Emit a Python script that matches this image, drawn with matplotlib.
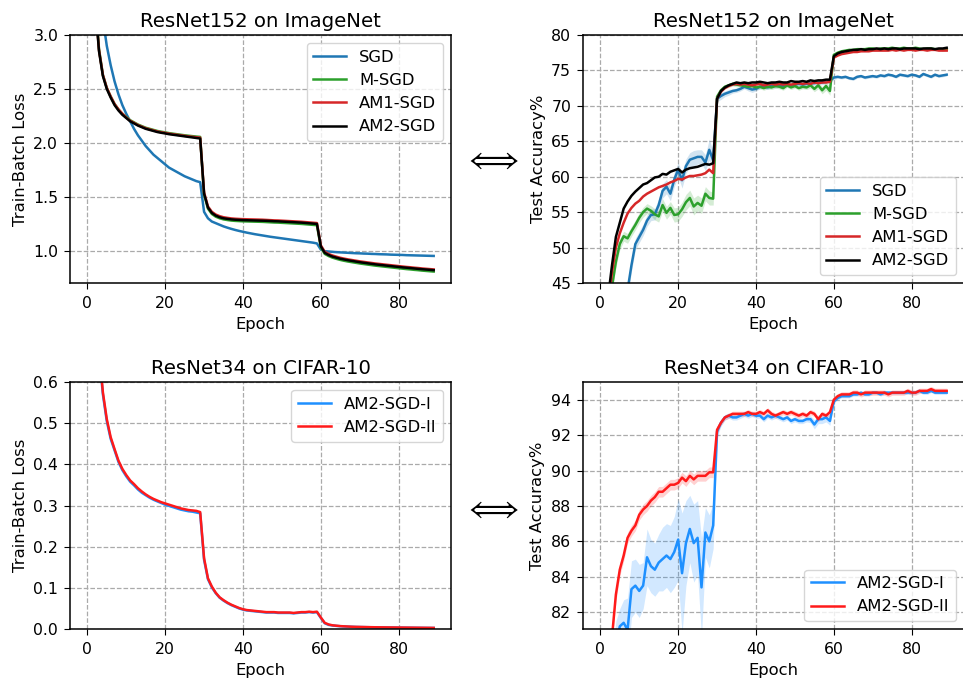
import numpy as np
import matplotlib
matplotlib.use("Agg")
import matplotlib.pyplot as plt

epochs = np.arange(90)

# --- ResNet152 / ImageNet : train-batch loss ---
loss_sgd = [6.8, 5.5, 4.4, 3.6, 3.15, 2.9, 2.72, 2.57, 2.45, 2.35,
            2.27, 2.2, 2.13, 2.07, 2.02, 1.97, 1.93, 1.89, 1.86, 1.83,
            1.80, 1.77, 1.75, 1.73, 1.71, 1.69, 1.675, 1.66, 1.645, 1.635,
            1.36, 1.30, 1.27, 1.255, 1.24, 1.225, 1.213, 1.202, 1.192, 1.183,
            1.175, 1.167, 1.16, 1.153, 1.147, 1.141, 1.135, 1.129, 1.124, 1.119,
            1.114, 1.109, 1.104, 1.099, 1.094, 1.089, 1.084, 1.079, 1.074, 1.067,
            1.01, 0.995, 0.992, 0.989, 0.986, 0.984, 0.982, 0.980, 0.978, 0.976,
            0.975, 0.973, 0.972, 0.970, 0.969, 0.967, 0.966, 0.965, 0.963, 0.962,
            0.961, 0.960, 0.958, 0.957, 0.956, 0.955, 0.954, 0.953, 0.952, 0.951]
loss_msgd = [7.0, 4.9, 3.35, 2.87, 2.63, 2.51, 2.43, 2.36, 2.31, 2.27,
             2.24, 2.21, 2.19, 2.17, 2.155, 2.14, 2.13, 2.12, 2.11, 2.103,
             2.097, 2.09, 2.085, 2.08, 2.075, 2.07, 2.066, 2.062, 2.058, 2.055,
             1.52, 1.39, 1.34, 1.315, 1.3, 1.29, 1.284, 1.279, 1.276, 1.274,
             1.272, 1.271, 1.27, 1.269, 1.268, 1.267, 1.265, 1.263, 1.261, 1.26,
             1.258, 1.256, 1.254, 1.252, 1.25, 1.248, 1.245, 1.242, 1.239, 1.236,
             1.03, 0.97, 0.95, 0.935, 0.924, 0.914, 0.906, 0.899, 0.893, 0.887,
             0.881, 0.876, 0.871, 0.866, 0.861, 0.857, 0.853, 0.849, 0.845, 0.841,
             0.837, 0.833, 0.829, 0.826, 0.822, 0.819, 0.815, 0.812, 0.809, 0.806]
loss_am1 = [7.0, 4.8, 3.32, 2.86, 2.63, 2.51, 2.43, 2.36, 2.31, 2.27,
            2.235, 2.205, 2.185, 2.165, 2.15, 2.135, 2.125, 2.115, 2.105, 2.098,
            2.092, 2.085, 2.08, 2.075, 2.07, 2.065, 2.06, 2.056, 2.052, 2.048,
            1.54, 1.41, 1.36, 1.335, 1.32, 1.31, 1.304, 1.299, 1.296, 1.294,
            1.292, 1.291, 1.29, 1.289, 1.288, 1.287, 1.285, 1.283, 1.281, 1.28,
            1.278, 1.276, 1.274, 1.272, 1.27, 1.268, 1.265, 1.262, 1.259, 1.256,
            1.05, 0.99, 0.97, 0.955, 0.944, 0.934, 0.926, 0.919, 0.913, 0.907,
            0.901, 0.896, 0.891, 0.886, 0.881, 0.877, 0.873, 0.869, 0.865, 0.861,
            0.857, 0.853, 0.849, 0.846, 0.842, 0.839, 0.835, 0.832, 0.829, 0.826]
loss_am2 = [7.0, 4.8, 3.3, 2.85, 2.62, 2.5, 2.42, 2.35, 2.3, 2.26,
            2.23, 2.2, 2.18, 2.16, 2.145, 2.13, 2.12, 2.11, 2.1, 2.093,
            2.087, 2.08, 2.075, 2.07, 2.065, 2.06, 2.055, 2.05, 2.045, 2.04,
            1.53, 1.40, 1.35, 1.325, 1.31, 1.30, 1.295, 1.29, 1.287, 1.285,
            1.283, 1.282, 1.281, 1.28, 1.279, 1.278, 1.277, 1.275, 1.273, 1.272,
            1.27, 1.268, 1.266, 1.264, 1.262, 1.26, 1.257, 1.254, 1.251, 1.248,
            1.04, 0.98, 0.96, 0.945, 0.935, 0.925, 0.918, 0.911, 0.905, 0.899,
            0.893, 0.888, 0.883, 0.878, 0.873, 0.869, 0.865, 0.861, 0.857, 0.853,
            0.849, 0.845, 0.842, 0.838, 0.835, 0.831, 0.828, 0.825, 0.822, 0.819]

# --- ResNet152 / ImageNet : test accuracy ---
acc_sgd = [5, 15, 25, 32, 37, 40, 42, 44, 47.5, 50.5,
           51.5, 52.5, 53.8, 54.6, 54.7, 56.0, 58.0, 58.6, 57.6, 59.6,
           61.0, 59.5, 61.5, 62.4, 62.6, 62.8, 62.8, 62.0, 63.8, 62.3,
           71.0, 71.4, 71.7, 71.9, 72.1, 72.2, 72.4, 72.7, 72.5, 72.3,
           72.4, 72.7, 72.8, 72.6, 72.9, 72.8, 72.9, 72.8, 73.0, 72.9,
           73.0, 73.1, 73.0, 73.1, 73.2, 73.2, 73.3, 73.3, 73.4, 73.5,
           74.0, 74.1, 74.0, 74.1, 73.9, 73.8, 74.1, 74.2, 74.0, 74.1,
           74.2, 74.1, 74.3, 74.2, 74.4, 74.3, 74.1, 74.4, 74.3, 74.2,
           74.4, 74.3, 74.1, 74.5, 74.3, 74.1, 74.4, 74.2, 74.3, 74.4]
acc_msgd = [12, 25, 37, 44.5, 48.0, 50.5, 51.6, 51.3, 52.3, 53.2,
            54.2, 55.0, 55.5, 55.2, 54.7, 54.4, 56.0, 54.9, 55.6, 54.6,
            54.7, 55.4, 56.4, 57.0, 55.8, 56.3, 55.9, 57.6, 57.0, 56.9,
            71.3, 72.2, 72.7, 72.9, 73.1, 73.0, 72.9, 72.8, 72.7, 72.8,
            72.6, 72.7, 72.5, 72.7, 72.6, 72.8, 72.7, 72.5, 72.9, 72.6,
            72.8, 72.5, 72.7, 72.6, 72.9, 72.4, 72.9, 72.2, 72.8, 72.1,
            77.2, 77.5, 77.7, 77.8, 77.9, 77.9, 78.0, 78.0, 78.0, 78.1,
            78.1, 78.0, 78.1, 78.1, 78.1, 78.2, 78.1, 78.1, 78.2, 78.1,
            78.1, 78.2, 78.1, 78.0, 78.1, 78.1, 78.0, 78.0, 77.9, 78.0]
acc_am1 = [17, 31, 42, 46.5, 50.0, 52.0, 53.5, 54.8, 55.6, 56.2,
           56.6, 57.2, 57.6, 57.9, 58.2, 58.5, 58.7, 58.9, 59.2, 59.4,
           59.7, 59.6, 59.9, 60.1, 60.1, 60.2, 60.3, 60.5, 61.0, 60.5,
           71.0, 72.0, 72.5, 72.8, 73.0, 73.1, 73.0, 73.1, 73.0, 72.9,
           73.0, 73.1, 72.9, 73.0, 73.1, 73.0, 73.1, 73.0, 73.1, 73.0,
           73.1, 73.2, 73.1, 73.2, 73.1, 73.3, 73.2, 73.3, 73.3, 73.4,
           76.8, 77.1, 77.3, 77.4, 77.5, 77.6, 77.6, 77.7, 77.7, 77.7,
           77.8, 77.8, 77.8, 77.8, 77.8, 77.9, 77.8, 77.9, 77.8, 77.9,
           77.9, 77.8, 77.9, 77.9, 77.8, 77.9, 77.9, 77.8, 77.8, 77.8]
acc_am2 = [18, 33, 43, 47.5, 51.5, 53.5, 55.5, 56.5, 57.3, 57.9,
           58.4, 58.9, 59.1, 59.5, 59.9, 60.0, 60.4, 60.3, 60.7, 60.9,
           61.1, 60.6, 61.0, 61.2, 61.3, 61.4, 61.6, 61.8, 61.7, 61.9,
           71.0, 72.1, 72.6, 72.9, 73.1, 73.3, 73.2, 73.3, 73.2, 73.3,
           73.3, 73.4, 73.3, 73.2, 73.3, 73.3, 73.4, 73.3, 73.3, 73.5,
           73.4, 73.4, 73.5, 73.4, 73.6, 73.5, 73.6, 73.6, 73.7, 73.7,
           77.0, 77.4, 77.6, 77.7, 77.8, 77.9, 77.9, 78.0, 77.9, 78.0,
           78.0, 78.1, 78.0, 78.1, 78.0, 78.1, 78.1, 78.0, 78.1, 78.1,
           78.1, 78.1, 78.0, 78.1, 78.1, 78.1, 78.0, 78.1, 78.1, 78.2]
std_sgd = [1.0, 1.0, 1.0, 1.0, 1.0, 1.0, 1.0, 1.0, 0.9, 0.8,
           0.8, 0.8, 0.8, 0.8, 0.8, 0.9, 1.0, 1.0, 1.0, 1.0,
           1.0, 1.1, 1.0, 1.0, 1.1, 1.0, 1.0, 1.1, 1.5, 1.2,
           0.4, 0.5, 0.4, 0.4, 0.3, 0.3, 0.3, 0.3, 0.4, 0.4,
           0.3, 0.3, 0.3, 0.3, 0.3, 0.3, 0.3, 0.3, 0.3, 0.3,
           0.3, 0.3, 0.3, 0.3, 0.3, 0.3, 0.3, 0.3, 0.3, 0.3,
           0.3, 0.2, 0.2, 0.2, 0.2, 0.2, 0.2, 0.2, 0.2, 0.2,
           0.2, 0.2, 0.2, 0.2, 0.2, 0.2, 0.2, 0.2, 0.2, 0.2,
           0.2, 0.2, 0.2, 0.2, 0.2, 0.2, 0.2, 0.2, 0.2, 0.2]
std_msgd = [0.8, 0.8, 0.8, 0.8, 0.8, 0.8, 0.7, 0.7, 0.7, 0.7,
            0.7, 0.7, 0.7, 0.7, 0.8, 0.8, 0.9, 0.9, 0.9, 1.0,
            1.0, 1.0, 1.1, 1.1, 1.2, 1.1, 1.1, 1.0, 1.0, 0.9,
            0.4, 0.3, 0.3, 0.3, 0.3, 0.3, 0.3, 0.3, 0.3, 0.3,
            0.3, 0.3, 0.3, 0.3, 0.3, 0.3, 0.3, 0.3, 0.3, 0.3,
            0.3, 0.3, 0.3, 0.3, 0.4, 0.4, 0.5, 0.5, 0.6, 0.6,
            0.2, 0.15, 0.15, 0.15, 0.15, 0.15, 0.15, 0.15, 0.15, 0.15,
            0.15, 0.15, 0.15, 0.15, 0.15, 0.15, 0.15, 0.15, 0.15, 0.15,
            0.15, 0.15, 0.15, 0.15, 0.15, 0.15, 0.15, 0.15, 0.15, 0.15]

# --- ResNet34 / CIFAR-10 : train-batch loss ---
cl_am2_i = [1.6, 1.1, 0.85, 0.67, 0.57, 0.505, 0.462, 0.434, 0.406, 0.386,
            0.371, 0.358, 0.349, 0.339, 0.331, 0.325, 0.319, 0.314, 0.31, 0.306,
            0.302, 0.299, 0.296, 0.293, 0.29, 0.288, 0.286, 0.285, 0.283, 0.281,
            0.168, 0.121, 0.101, 0.087, 0.076, 0.069, 0.063, 0.058, 0.054, 0.05,
            0.047, 0.045, 0.044, 0.043, 0.042, 0.041, 0.040, 0.040, 0.040, 0.039,
            0.039, 0.039, 0.039, 0.038, 0.039, 0.040, 0.040, 0.041, 0.040, 0.041,
            0.027, 0.014, 0.010, 0.0085, 0.0075, 0.0068, 0.0062, 0.0058, 0.0054, 0.005,
            0.0048, 0.0046, 0.0044, 0.0042, 0.004, 0.0039, 0.0038, 0.0037, 0.0036, 0.0035,
            0.0034, 0.0033, 0.0032, 0.0031, 0.003, 0.0029, 0.0028, 0.0027, 0.0026, 0.0025]
cl_am2_ii = [1.6, 1.1, 0.85, 0.68, 0.575, 0.51, 0.466, 0.437, 0.409, 0.389,
             0.374, 0.361, 0.352, 0.342, 0.334, 0.327, 0.321, 0.316, 0.312, 0.308,
             0.305, 0.302, 0.299, 0.296, 0.293, 0.291, 0.289, 0.288, 0.287, 0.284,
             0.172, 0.123, 0.103, 0.088, 0.077, 0.070, 0.064, 0.059, 0.055, 0.051,
             0.048, 0.046, 0.045, 0.044, 0.043, 0.042, 0.041, 0.041, 0.041, 0.040,
             0.040, 0.040, 0.040, 0.039, 0.040, 0.041, 0.041, 0.042, 0.041, 0.042,
             0.028, 0.015, 0.011, 0.009, 0.008, 0.007, 0.0065, 0.006, 0.0055, 0.0052,
             0.005, 0.0048, 0.0046, 0.0044, 0.0042, 0.0041, 0.004, 0.0039, 0.0038, 0.0037,
             0.0036, 0.0035, 0.0034, 0.0033, 0.0032, 0.0031, 0.003, 0.0029, 0.0028, 0.0027]

# --- ResNet34 / CIFAR-10 : test accuracy ---
ca_am2_i = [60, 70, 75, 78, 80, 81.2, 81.4, 81.0, 83.3, 83.5,
            83.2, 83.5, 85.1, 84.6, 84.4, 84.8, 85.0, 85.2, 85.0, 85.4,
            86.1, 84.2, 85.9, 86.7, 85.9, 86.2, 83.4, 86.5, 86.0, 86.9,
            92.2, 92.7, 93.0, 93.1, 93.0, 93.0, 93.1, 93.2, 93.1, 93.2,
            93.1, 93.1, 92.9, 93.1, 93.0, 93.1, 93.0, 92.9, 93.0, 92.8,
            92.9, 92.8, 92.8, 92.9, 92.9, 92.6, 92.9, 92.9, 93.0, 92.8,
            93.9, 94.1, 94.2, 94.2, 94.2, 94.3, 94.3, 94.4, 94.3, 94.3,
            94.4, 94.4, 94.3, 94.4, 94.4, 94.4, 94.4, 94.4, 94.4, 94.4,
            94.4, 94.4, 94.5, 94.4, 94.4, 94.5, 94.4, 94.4, 94.4, 94.4]
ca_am2_ii = [70, 75, 78.5, 80.6, 83.0, 84.4, 85.2, 86.2, 86.6, 86.9,
             87.5, 87.8, 88.0, 88.3, 88.5, 88.8, 88.8, 89.0, 89.2, 89.2,
             89.3, 89.6, 89.4, 89.7, 89.5, 89.7, 89.7, 89.7, 89.9, 89.9,
             92.3, 92.7, 93.0, 93.1, 93.2, 93.2, 93.2, 93.2, 93.3, 93.2,
             93.2, 93.3, 93.2, 93.4, 93.2, 93.1, 93.2, 93.3, 93.2, 93.3,
             93.2, 93.1, 93.2, 93.1, 93.3, 93.2, 92.9, 93.2, 93.1, 93.3,
             94.0, 94.2, 94.3, 94.3, 94.3, 94.4, 94.4, 94.3, 94.4, 94.4,
             94.4, 94.4, 94.4, 94.4, 94.3, 94.4, 94.4, 94.4, 94.4, 94.5,
             94.4, 94.4, 94.5, 94.5, 94.5, 94.6, 94.5, 94.5, 94.5, 94.5]
ca_std_i = [1.5, 1.5, 1.5, 1.5, 1.5, 1.0, 1.3, 1.8, 1.6, 1.5,
            1.5, 1.3, 1.6, 1.5, 1.5, 1.6, 1.8, 1.8, 1.9, 2.0,
            2.3, 3.4, 2.4, 1.9, 2.2, 2.1, 2.8, 1.4, 1.5, 1.3,
            0.3, 0.2, 0.15, 0.15, 0.15, 0.15, 0.15, 0.15, 0.15, 0.15,
            0.15, 0.15, 0.15, 0.15, 0.15, 0.15, 0.15, 0.15, 0.15, 0.15,
            0.15, 0.15, 0.15, 0.15, 0.2, 0.25, 0.25, 0.25, 0.25, 0.25,
            0.1, 0.1, 0.1, 0.1, 0.1, 0.1, 0.1, 0.1, 0.1, 0.1,
            0.1, 0.1, 0.1, 0.1, 0.1, 0.1, 0.1, 0.1, 0.1, 0.1,
            0.1, 0.1, 0.1, 0.1, 0.1, 0.1, 0.1, 0.1, 0.1, 0.1]
ca_std_ii = [0.4, 0.4, 0.4, 0.4, 0.4, 0.35, 0.3, 0.3, 0.3, 0.3,
             0.3, 0.3, 0.3, 0.3, 0.3, 0.3, 0.3, 0.3, 0.3, 0.3,
             0.3, 0.3, 0.3, 0.3, 0.3, 0.3, 0.3, 0.3, 0.3, 0.3,
             0.2, 0.15, 0.15, 0.15, 0.15, 0.15, 0.15, 0.15, 0.15, 0.15,
             0.15, 0.15, 0.15, 0.15, 0.15, 0.15, 0.15, 0.15, 0.15, 0.15,
             0.15, 0.15, 0.15, 0.15, 0.15, 0.15, 0.15, 0.15, 0.15, 0.15,
             0.15, 0.15, 0.15, 0.15, 0.15, 0.15, 0.15, 0.15, 0.15, 0.15,
             0.15, 0.15, 0.15, 0.15, 0.15, 0.15, 0.15, 0.15, 0.15, 0.15,
             0.15, 0.15, 0.15, 0.15, 0.15, 0.15, 0.15, 0.15, 0.15, 0.15]

C_SGD, C_MSGD, C_AM1, C_AM2 = '#1f77b4', '#2ca02c', '#d62728', 'black'
C_I, C_II = '#1e90ff', '#ff1a1a'

plt.rcParams['font.family'] = ['DejaVu Sans']
plt.rcParams['xtick.labelsize'] = 11.3
plt.rcParams['ytick.labelsize'] = 11.3
plt.rcParams['axes.labelsize'] = 11.8
plt.rcParams['legend.fontsize'] = 11.8
plt.rcParams['axes.titlesize'] = 14.2
plt.rcParams['axes.linewidth'] = 1.1
plt.rcParams['xtick.major.size'] = 4.5
plt.rcParams['ytick.major.size'] = 4.5
plt.rcParams['xtick.major.pad'] = 5
plt.rcParams['ytick.major.pad'] = 4

fig = plt.figure(figsize=(9.63, 6.79), dpi=100)
W, H = 963.0, 679.0


def make_ax(left, top, right, bottom):
    return fig.add_axes([left / W, 1 - bottom / H, (right - left) / W, (bottom - top) / H])


def style(ax):
    ax.grid(True, ls='--', color='#aaaaaa', lw=0.9)
    ax.set_axisbelow(True)
    ax.set_xticks([0, 20, 40, 60, 80])
    ax.set_xlabel('Epoch', labelpad=4.5)


LW = 1.8

ax1 = make_ax(70, 35, 451, 283)
ax1.plot(epochs, loss_sgd, color=C_SGD, lw=LW, label='SGD')
ax1.plot(epochs, loss_msgd, color=C_MSGD, lw=LW, label='M-SGD')
ax1.plot(epochs, loss_am1, color=C_AM1, lw=LW, label='AM1-SGD')
ax1.plot(epochs, loss_am2, color=C_AM2, lw=LW, label='AM2-SGD')
ax1.set_ylim(0.7, 3.0)
ax1.set_yticks([1.0, 1.5, 2.0, 2.5, 3.0])
ax1.set_ylabel('Train-Batch Loss')
ax1.set_title('ResNet152 on ImageNet')
style(ax1)
ax1.legend(loc='upper right')

ax2 = make_ax(583, 35, 964, 283)
sgd = np.array(acc_sgd)
msgd = np.array(acc_msgd)
ax2.fill_between(epochs, sgd - np.array(std_sgd), sgd + np.array(std_sgd), color=C_SGD, alpha=0.2, lw=0)
ax2.fill_between(epochs, msgd - np.array(std_msgd), msgd + np.array(std_msgd), color=C_MSGD, alpha=0.2, lw=0)
ax2.plot(epochs, acc_sgd, color=C_SGD, lw=LW, label='SGD')
ax2.plot(epochs, acc_msgd, color=C_MSGD, lw=LW, label='M-SGD')
ax2.plot(epochs, acc_am1, color=C_AM1, lw=LW, label='AM1-SGD')
ax2.plot(epochs, acc_am2, color=C_AM2, lw=LW, label='AM2-SGD')
ax2.set_ylim(45, 80)
ax2.set_ylabel('Test Accuracy%')
ax2.set_title('ResNet152 on ImageNet')
style(ax2)
ax2.legend(loc='lower right')

ax3 = make_ax(70, 382, 451, 629)
ax3.plot(epochs, cl_am2_i, color=C_I, lw=LW, label='AM2-SGD-I')
ax3.plot(epochs, cl_am2_ii, color=C_II, lw=LW, label='AM2-SGD-II')
ax3.set_ylim(0.0, 0.6)
ax3.set_ylabel('Train-Batch Loss')
ax3.set_title('ResNet34 on CIFAR-10')
style(ax3)
ax3.legend(loc='upper right')

ax4 = make_ax(583, 382, 964, 629)
ai = np.array(ca_am2_i)
aii = np.array(ca_am2_ii)
ax4.fill_between(epochs, ai - np.array(ca_std_i), ai + np.array(ca_std_i), color=C_I, alpha=0.2, lw=0)
ax4.fill_between(epochs, aii - np.array(ca_std_ii), aii + np.array(ca_std_ii), color=C_II, alpha=0.2, lw=0)
ax4.plot(epochs, ca_am2_i, color=C_I, lw=LW, label='AM2-SGD-I')
ax4.plot(epochs, ca_am2_ii, color=C_II, lw=LW, label='AM2-SGD-II')
ax4.set_ylim(81.05, 95.0)
ax4.set_yticks([82, 84, 86, 88, 90, 92, 94])
ax4.set_ylabel('Test Accuracy%')
ax4.set_title('ResNet34 on CIFAR-10')
style(ax4)
ax4.legend(loc='lower right')

# double arrows between the panels
for yp in (160, 509):
    fig.text(491 / W, 1 - yp / H, r'$\Longleftrightarrow$', fontsize=23,
             ha='center', va='center', math_fontfamily='cm')

fig.savefig('out.png', dpi=100)
